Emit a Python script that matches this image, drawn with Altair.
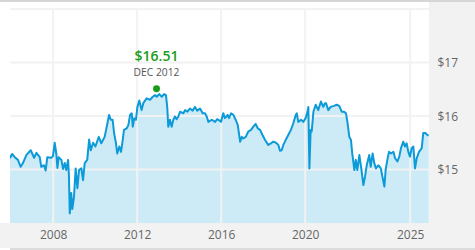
import altair as alt
import pandas as pd

# ---- data ----
years = [2005.94, 2006.04, 2006.17, 2006.32, 2006.45, 2006.56, 2006.72, 2006.93, 2007.09, 2007.2,
         2007.36, 2007.43, 2007.56, 2007.64, 2007.72, 2007.91, 2007.99, 2008.07, 2008.15, 2008.2,
         2008.26, 2008.39, 2008.47, 2008.55, 2008.62, 2008.71, 2008.75, 2008.79, 2008.86, 2008.91,
         2008.99, 2009.07, 2009.15, 2009.23, 2009.34, 2009.42, 2009.5, 2009.62, 2009.71, 2009.79,
         2009.9, 2010.01, 2010.17, 2010.29, 2010.45, 2010.58, 2010.66, 2010.74, 2010.83, 2010.9,
         2010.99, 2011.05, 2011.15, 2011.23, 2011.31, 2011.37, 2011.5, 2011.58, 2011.66, 2011.74,
         2011.79, 2011.86, 2011.94, 2012.01, 2012.1, 2012.21, 2012.29, 2012.45, 2012.61, 2012.74,
         2012.85, 2012.93, 2013.05, 2013.17, 2013.28, 2013.37, 2013.43, 2013.48, 2013.56, 2013.64,
         2013.72, 2013.8, 2013.88, 2013.96, 2014.04, 2014.2, 2014.28, 2014.39, 2014.51, 2014.64,
         2014.75, 2014.86, 2014.99, 2015.12, 2015.23, 2015.31, 2015.39, 2015.55, 2015.71, 2015.81,
         2015.94, 2015.99, 2016.1, 2016.18, 2016.31, 2016.37, 2016.47, 2016.58, 2016.69, 2016.79,
         2016.9, 2016.98, 2017.05, 2017.17, 2017.29, 2017.42, 2017.53, 2017.64, 2017.74, 2017.85,
         2017.96, 2018.09, 2018.24, 2018.37, 2018.48, 2018.61, 2018.72, 2018.8, 2018.88, 2018.96,
         2019.07, 2019.2, 2019.32, 2019.43, 2019.55, 2019.6, 2019.67, 2019.8, 2019.91, 2020.02,
         2020.09, 2020.15, 2020.2, 2020.26, 2020.31, 2020.39, 2020.5, 2020.62, 2020.75, 2020.86,
         2020.94, 2020.99, 2021.1, 2021.21, 2021.37, 2021.5, 2021.62, 2021.74, 2021.85, 2021.94,
         2022.01, 2022.1, 2022.18, 2022.24, 2022.29, 2022.34, 2022.41, 2022.48, 2022.58, 2022.67,
         2022.77, 2022.85, 2022.93, 2023.05, 2023.12, 2023.21, 2023.29, 2023.37, 2023.48, 2023.6,
         2023.69, 2023.77, 2023.83, 2023.91, 2023.99, 2024.09, 2024.2, 2024.28, 2024.39, 2024.48,
         2024.56, 2024.67, 2024.75, 2024.83, 2024.91, 2024.99, 2025.07, 2025.15, 2025.23, 2025.31,
         2025.42, 2025.55, 2025.62, 2025.72, 2025.81, 2025.88]

prices = [15.21, 15.29, 15.23, 15.18, 15.05, 15.12, 15.27, 15.36, 15.22, 15.31,
          15.23, 15.05, 15.08, 14.98, 15.23, 15.22, 15.25, 15.50, 15.29, 15.03,
          15.23, 15.18, 15.01, 15.12, 14.99, 15.18, 14.87, 14.18, 14.56, 14.26,
          14.49, 15.02, 14.65, 14.99, 15.02, 14.80, 15.12, 15.18, 15.56, 15.36,
          15.50, 15.43, 15.61, 15.49, 15.61, 15.86, 16.02, 15.93, 15.93, 15.68,
          15.49, 15.30, 15.43, 15.33, 15.55, 15.74, 15.77, 15.83, 16.02, 16.05,
          15.80, 15.96, 15.93, 16.17, 16.29, 16.11, 16.24, 16.33, 16.30, 16.36,
          16.39, 16.36, 16.41, 16.36, 16.41, 16.39, 16.17, 15.80, 15.93, 15.80,
          15.93, 15.99, 15.94, 15.99, 16.08, 16.05, 16.11, 16.08, 16.14, 16.10,
          16.17, 16.10, 16.14, 16.05, 16.05, 15.99, 15.89, 15.93, 15.89, 15.94,
          15.91, 15.89, 16.05, 15.96, 16.02, 15.96, 16.05, 16.02, 15.93, 15.83,
          15.52, 15.61, 15.58, 15.61, 15.71, 15.74, 15.80, 15.85, 15.77, 15.74,
          15.65, 15.55, 15.46, 15.49, 15.52, 15.50, 15.46, 15.35, 15.36, 15.46,
          15.55, 15.65, 15.74, 15.86, 16.02, 16.05, 15.89, 15.93, 15.89, 15.96,
          16.05, 16.17, 15.02, 15.74, 15.71, 16.08, 16.21, 16.11, 16.27, 16.17,
          16.24, 16.24, 16.11, 16.17, 16.19, 16.21, 16.19, 16.08, 16.08, 16.05,
          15.89, 15.61, 15.55, 15.30, 15.15, 14.99, 15.18, 14.99, 15.27, 15.02,
          14.71, 14.87, 15.08, 15.27, 15.05, 15.30, 15.12, 15.02, 15.08, 15.02,
          14.84, 14.68, 14.99, 15.18, 15.33, 15.30, 15.33, 15.21, 15.15, 15.24,
          15.40, 15.52, 15.43, 15.49, 15.33, 15.24, 15.40, 15.43, 15.02, 15.21,
          15.33, 15.40, 15.68, 15.68, 15.65, 15.63]

peak_year = [2012.92]
peak_price = [16.51]
peak_label = ["$16.51"]
peak_date_label = ["DEC 2012"]

x_ticks = [2008, 2012, 2016, 2020, 2025]
y_ticks = [15, 16, 17]
y_grid = [15, 16, 17, 18]
x_domain = [2005.943, 2025.895]
y_domain = [14, 18]

FONT = "Segoe UI, Open Sans"
LINE = "#0d9ad8"
FILL = "#cdeaf7"
GRID = "#f2f2f2"
PANEL = "#f2f2f2"
GREEN = "#1a9c1a"

df = pd.DataFrame({"year": years, "price": prices})
peak = pd.DataFrame({"year": peak_year, "price": peak_price,
                     "label": peak_label, "date": peak_date_label})
xg = pd.DataFrame({"year": x_ticks})
yg = pd.DataFrame({"price": y_grid})
one = pd.DataFrame({"k": [0]})

xs = alt.Scale(domain=x_domain, nice=False, zero=False)
ys = alt.Scale(domain=y_domain, nice=False, zero=False)

x_axis = alt.Axis(values=x_ticks, format="d", grid=False, ticks=False, tickSize=0, domain=False,
                  labelFont=FONT, labelFontSize=12, labelColor="#666666",
                  labelPadding=11, labelBaseline="middle", title=None, zindex=1)
y_axis = alt.Axis(values=y_ticks, format="$.0f", orient="right", grid=False, ticks=False,
                  tickSize=0, domain=False, labelFont=FONT, labelFontSize=12,
                  labelColor="#666666", labelPadding=8, labelAlign="left", title=None, zindex=1)

# decorative panels around the plot (right and bottom gray bands, top/bottom rules)
right_panel = alt.Chart(one).mark_rect(color=PANEL, clip=False).encode(
    x=alt.value(419), x2=alt.value(465), y=alt.value(-7), y2=alt.value(241))
bottom_panel = alt.Chart(one).mark_rect(color=PANEL, clip=False).encode(
    x=alt.value(-10), x2=alt.value(419), y=alt.value(214), y2=alt.value(239))
bottom_rule = alt.Chart(one).mark_rect(color="#dcdcdc", clip=False).encode(
    x=alt.value(0), x2=alt.value(465), y=alt.value(239), y2=alt.value(241))
top_rule = alt.Chart(one).mark_rect(color="#d6d6d6", clip=False).encode(
    x=alt.value(-10), x2=alt.value(465), y=alt.value(-9), y2=alt.value(-7))

area = alt.Chart(df).mark_area(color=FILL, clip=True).encode(
    x=alt.X("year:Q", scale=xs, axis=x_axis),
    y=alt.Y("price:Q", scale=ys, axis=y_axis),
    y2=alt.datum(14),
)

vgrid = alt.Chart(xg).mark_rule(color=GRID, strokeWidth=2).encode(
    x=alt.X("year:Q", scale=xs))
hgrid = alt.Chart(yg).mark_rule(color=GRID, strokeWidth=2).encode(
    y=alt.Y("price:Q", scale=ys))

line = alt.Chart(df).mark_line(color=LINE, strokeWidth=2, strokeJoin="round", clip=True).encode(
    x=alt.X("year:Q", scale=xs),
    y=alt.Y("price:Q", scale=ys),
)

dot = alt.Chart(peak).mark_point(filled=True, color=GREEN, size=48, opacity=1).encode(
    x=alt.X("year:Q", scale=xs), y=alt.Y("price:Q", scale=ys))

price_txt = alt.Chart(peak).mark_text(color=GREEN, font=FONT, fontSize=14, fontWeight=600,
                                      baseline="middle", align="center", dy=-31.5).encode(
    x=alt.X("year:Q", scale=xs), y=alt.Y("price:Q", scale=ys), text="label:N")
date_txt = alt.Chart(peak).mark_text(color="#555555", font=FONT, fontSize=10.3,
                                     baseline="middle", align="center", dy=-16).encode(
    x=alt.X("year:Q", scale=xs), y=alt.Y("price:Q", scale=ys), text="date:N")

chart = alt.layer(
    right_panel, bottom_panel, bottom_rule, top_rule,
    area, vgrid, hgrid, line, dot, price_txt, date_txt,
).properties(
    width=419, height=214,
    padding={"left": 10, "top": 9, "right": 46, "bottom": 27},
    autosize="none",
    background="white",
).configure_view(stroke=None)

chart.save("out.html", embed_options={"renderer": "svg", "actions": False})
